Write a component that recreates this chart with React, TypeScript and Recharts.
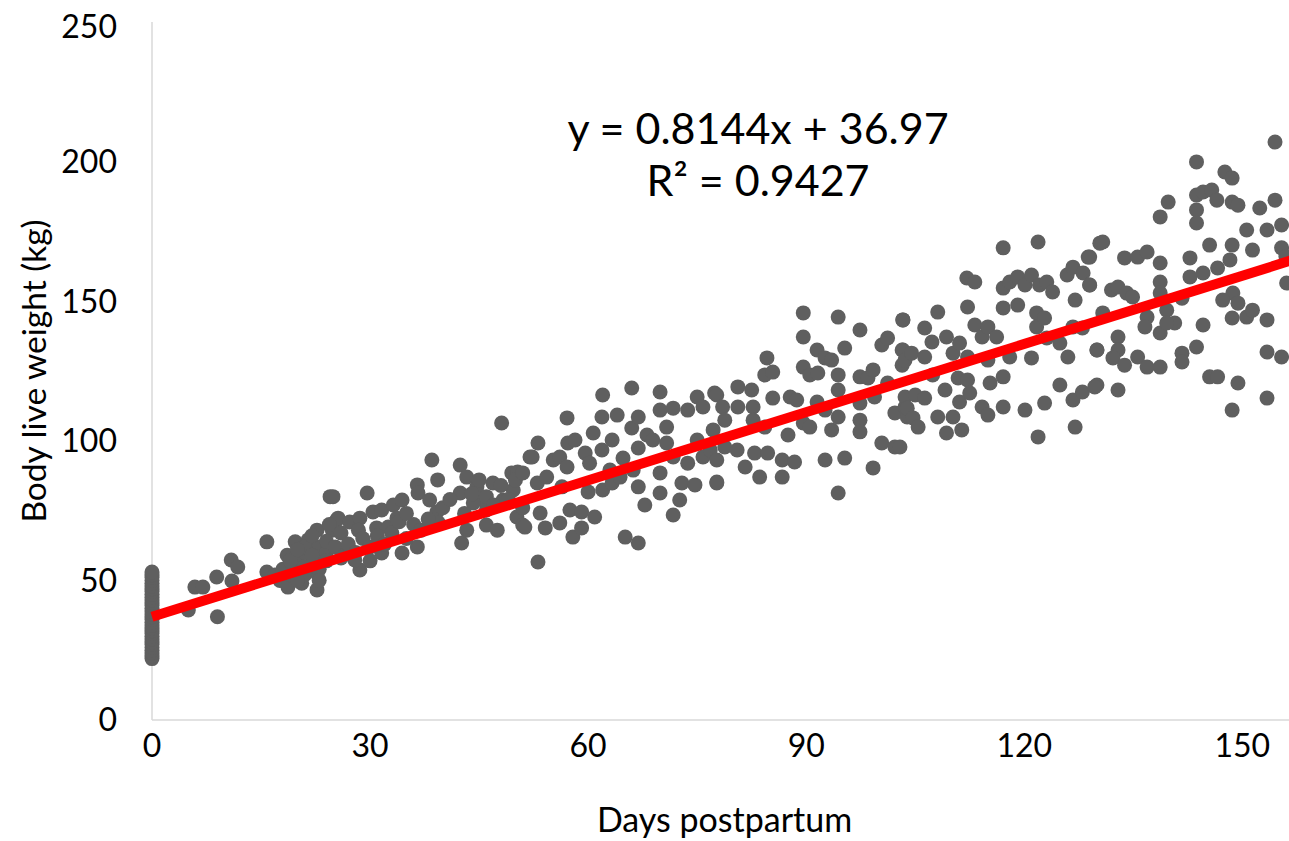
import React, { useLayoutEffect } from "react";
import { ScatterChart, Scatter, XAxis, YAxis } from "recharts";

// weights at day 0
const day0Weights = [
  22, 23, 24, 25, 26, 27, 28, 29, 30, 31, 32, 33, 34, 35, 36, 37, 38, 39, 40,
  41, 42, 43, 44, 45, 46, 47, 48, 49, 50, 51, 52, 53,
];

// [day, kg] pairs, read region by region
const earlyPoints = [
  [5, 39.4], [5.9, 47.6], [7, 47.6], [8.9, 51.2], [9, 37], [10.9, 57.3], [11.8, 54.8], [11, 49.8],
  [15.8, 63.8], [15.8, 53], [16.9, 51.9], [17.6, 50], [18.6, 59], [19.7, 63.8], [18.7, 47.6],
  [20.6, 49], [21.5, 64.5], [22.7, 68], [22.7, 46.6], [22.2, 61], [24.8, 68], [24.5, 80],
  [25.4, 71.6], [22.7, 52.6], [19.4, 56], [20, 55], [20, 58], [21, 52], [21, 60], [22, 56],
  [23, 58], [23, 62], [24, 60], [24, 64], [19, 52], [18, 54], [21, 62], [22, 66], [20, 50],
  [23, 54], [19, 57], [20, 61], [21, 55], [22, 59], [23, 50], [24, 57],
];

const mid1Points = [
  [24.9, 80], [29.6, 81.3], [25.6, 72.3], [24.4, 70], [25.2, 62], [26.8, 59.8], [27.2, 70.9],
  [28.6, 72.3], [28.4, 68], [28.6, 53.7], [27.9, 57.3], [30.4, 74.5], [31.6, 75.2], [30.9, 68.8],
  [32.5, 69.1], [33.2, 77], [34.4, 78.8], [33.7, 72.3], [31.6, 59.8], [34.4, 59.8], [36.5, 62],
  [36.5, 84.2], [36.6, 81.3], [38.2, 78.8], [38.5, 93.1], [39.3, 86], [39.2, 74.5], [39.4, 70.6],
  [42.4, 91.3], [43.3, 87], [42.4, 81.3], [42.6, 63.4], [43.3, 68], [44.7, 83.5], [45.6, 78.8],
  [46, 69.8], [46.9, 84.9], [47.5, 68], [48.1, 106.4], [48.3, 78.8], [49.7, 82.4], [49.5, 88.5],
  [50.3, 88.8], [50.2, 72.7], [51, 69.8], [52, 94.2], [46, 75.2], [44.2, 77.7],
  [26, 67], [26, 58], [27, 63], [28, 60], [29, 65], [30, 62], [30, 57], [31, 66], [32, 63],
  [33, 67], [34, 71], [35, 65], [36, 70], [37, 68], [35, 74], [38, 72], [40, 76], [41, 79],
  [43, 74], [44, 81], [45, 86], [46, 80], [47, 77], [48, 84], [49, 79], [50, 86], [51, 76],
];

const mid2Points = [
  [53.1, 56.6], [51.3, 69.1], [51, 88.5], [52.3, 94.2], [53.1, 99.2], [53, 84.9], [54.1, 68.8],
  [53.4, 74.1], [54.3, 87], [55.2, 93.1], [56.1, 94.2], [56.4, 83.5], [56.1, 70.6], [57.1, 108.2],
  [57.2, 99.2], [57.1, 90.6], [57.5, 75.2], [57.9, 65.5], [59.1, 74.5], [59.1, 68.8], [58.2, 100.3],
  [59.6, 95.6], [60, 81.7], [60.2, 92], [60.9, 72.7], [60.7, 102.8], [61.9, 108.5], [62, 116.4],
  [61.9, 96.7], [62, 82.4], [63.3, 100.3], [64, 109.2], [63, 89.5], [63.3, 84.9], [64.4, 87],
  [64.8, 93.8], [65.1, 65.5], [66, 104.6], [66, 118.9], [66.9, 108.5], [66.9, 97.4], [66.9, 83.5],
  [66.9, 63.4], [66.2, 89.5], [68.1, 102.1], [67.8, 77], [68.9, 100.3], [69.9, 117.5], [69.9, 111],
  [69.9, 88.5], [69.9, 81.3], [70.8, 104.9], [70.8, 99.2], [71.7, 111.7], [71.7, 94.2], [71.7, 73.4],
  [72.6, 78.8], [72.9, 84.9], [73.7, 111], [73.7, 92], [74.7, 84.2], [75, 115.7], [75.8, 112.1],
  [75, 100.3], [75.8, 94.2], [77.4, 117.1], [77.2, 103.9], [77.7, 85.2], [76.8, 96.7],
];

const mid3Points = [
  [77.7, 84.9], [77.7, 116.4], [78.5, 112.1], [78.8, 107.4], [78.8, 97.8], [77.7, 93.1],
  [80.6, 119.3], [80.6, 112.1], [80.5, 96.7], [81.6, 90.6], [82.5, 118.2], [82.7, 112.1],
  [82.7, 107.4], [82.9, 95.6], [83.6, 87], [84.6, 129.7], [84.3, 123.6], [85.4, 124.6],
  [85.4, 115.3], [84.3, 104.9], [84.7, 95.6], [86.7, 87], [86.7, 93.1], [87.8, 115.7],
  [88.7, 114.6], [87.5, 102.1], [88.4, 92.4], [89.6, 145.8], [89.6, 137.2], [89.6, 126.4],
  [90.5, 123.6], [89.6, 106.4], [90.5, 104.9], [91.5, 132.5], [92.6, 129.7], [93.5, 128.9],
  [91.6, 124.3], [91.5, 113.9], [92.6, 111], [92.6, 93.1], [93.5, 103.9], [94.4, 144.3],
  [94.4, 123.6], [94.4, 118.2], [94.4, 108.5], [95.3, 133.2], [95.3, 93.8], [94.4, 81.3],
  [97.4, 139.7], [97.4, 122.9], [97.4, 113.5], [97.4, 107.4], [97.4, 103.2], [98.5, 122.5],
  [99.2, 125.4], [99.4, 115.7], [99.2, 90.3], [100.4, 99.2], [100.4, 134.3], [101.2, 136.8],
  [101.2, 120.7], [102.2, 110], [102.2, 97.8], [103.3, 143.3], [103.2, 132.5], [103.2, 127.1],
  [103.6, 112.1], [103.9, 108.5],
];

const late1Points = [
  [102.9, 97.8], [103.3, 143.3], [103.3, 132.5], [103.6, 128.9], [104.5, 131.4], [103.6, 115.7],
  [103.9, 111.7], [105, 116.4], [104.7, 108.2], [105.4, 104.9], [106.3, 140.4], [106.3, 130],
  [106.3, 115.3], [107.3, 135.4], [107.4, 123.6], [108.1, 146.1], [108.1, 108.5], [109.1, 118.2],
  [109.3, 137.2], [109.3, 102.8], [110.2, 131.4], [110.2, 108.5], [111.1, 135], [110.9, 122.5],
  [111.1, 113.9], [111.4, 103.9], [112.2, 147.9], [112.1, 158.3], [113.2, 156.9], [112.2, 130],
  [112.2, 121.8], [112.5, 117.1], [113.2, 141.5], [114.2, 112.1], [114.2, 137.2], [115, 140.8],
  [115, 128.9], [115, 109.2], [115.3, 120.7], [116.2, 137.2], [117.1, 122.9], [117.1, 112.1],
  [117.1, 169.1], [117.1, 154.7], [117.1, 147.6], [118, 156.9], [118, 130], [119.1, 158.7],
  [119.1, 148.6], [120.1, 155.8], [120.1, 111], [121, 159.4], [121, 129.7], [121.7, 145.8],
  [121.7, 140.8], [121.9, 171.2], [122.1, 155.8], [123.1, 156.9], [122.8, 144], [122.8, 113.5],
  [121.9, 101.4], [123.9, 153.3], [123.1, 136.8], [124.9, 135], [124.9, 120], [126, 130],
  [125.9, 159.4], [126.7, 162.2], [127, 150.4], [126.7, 140.8], [126.7, 114.6], [127, 104.9],
  [128, 140.4], [128, 117.5], [128.1, 160.1], [128.8, 165.8], [129, 155.8], [130, 132.5],
  [130, 120], [130.4, 170.8],
];

const late2Points = [
  [129, 165.8], [129, 155.8], [130, 132.5], [129.7, 119.3], [130.8, 171.2], [130.8, 145.8],
  [132, 154], [132.9, 155.1], [132.9, 137.2], [132.9, 132.5], [132.2, 129.7], [133.8, 127.1],
  [132.9, 118.2], [133.8, 165.5], [134.1, 152.9], [134.9, 151.5], [135.6, 165.8], [136.9, 167.6],
  [136.9, 144.3], [136.6, 140.8], [135.6, 130], [136.9, 126.4], [138.7, 163.7], [138.7, 156.9],
  [138.7, 152.9], [138.7, 138.6], [138.7, 126.4], [139.8, 185.5], [138.7, 180.2], [139.6, 146.8],
  [140.7, 142.2], [139.6, 142.2], [141.7, 151.1], [141.7, 131.4], [141.7, 128.2], [142.8, 165.5],
  [142.8, 158.7], [143.7, 199.9], [143.7, 188], [143.7, 182.7], [143.7, 178], [143.7, 133.6],
  [144.6, 189.1], [145.8, 189.8], [144.6, 160.1], [144.6, 141.5], [145.5, 170.1], [145.5, 122.9],
  [146.6, 122.9], [146.5, 186.2], [146.6, 161.9], [147.6, 196.3], [148.6, 194.1], [148.6, 185.5],
  [149.4, 184.4], [148.6, 170.1], [148.3, 164.8], [148.7, 152.9], [147.3, 150.4], [149.4, 149.3],
  [148.6, 144], [148.6, 111], [150.6, 144.3], [151.4, 146.8], [150.6, 175.5], [151.4, 168.3],
  [149.4, 120.7], [152.4, 183.4], [153.4, 175.5], [153.4, 143.3], [153.4, 131.8], [153.4, 115.3],
  [154.5, 207], [154.5, 186.2], [155.4, 177.3], [155.4, 169.1], [156.1, 156.5], [155.4, 130],
  [156, 166],
];

const xTicks = [0, 30, 60, 90, 120, 150];
const yTicks = [0, 50, 100, 150, 200, 250];

const slope = 0.8144;
const intercept = 36.97;
const trendDays = [0, 160];

const points = [
  ...day0Weights.map((kg) => ({ day: 0, kg })),
  ...[...earlyPoints, ...mid1Points, ...mid2Points, ...mid3Points, ...late1Points, ...late2Points].map(
    ([day, kg]) => ({ day, kg })
  ),
];
const trend = trendDays.map((day) => ({ day, kg: slope * day + intercept }));

const font = "Lato, 'Open Sans', sans-serif";
const tickStyle = { fontSize: 32, fill: "#000", fontFamily: font };

const Dot = (props: any) => <circle cx={props.cx} cy={props.cy} r={7.5} fill="#5f5f5f" />;

export default function App() {
  // the chart runs off the right edge like the original, so let the page use that strip
  useLayoutEffect(() => {
    document.body.style.marginRight = "0px";
    document.body.style.marginBottom = "0px";
  }, []);

  return (
    <div style={{ position: "relative", width: 1281, height: 833, overflow: "hidden" }}>
      <ScatterChart width={1307} height={833} margin={{ top: 14, right: 0, bottom: 0, left: 0 }}>
        <XAxis
          type="number"
          dataKey="day"
          domain={[0, 160]}
          ticks={xTicks}
          tickLine={false}
          tickMargin={8}
          height={121}
          tick={tickStyle}
          axisLine={{ stroke: "#d9d9d9", strokeWidth: 1.5 }}
          label={{
            value: "Days postpartum",
            position: "insideBottom",
            offset: 9,
            dx: -9,
            style: { fontSize: 34, fill: "#000", fontFamily: font },
          }}
        />
        <YAxis
          type="number"
          dataKey="kg"
          domain={[0, 250]}
          ticks={yTicks}
          tickLine={false}
          tickMargin={29}
          width={144}
          tick={tickStyle}
          axisLine={{ stroke: "#d9d9d9", strokeWidth: 1.5 }}
          label={{
            value: "Body live weight (kg)",
            angle: -90,
            position: "insideLeft",
            offset: 26,
            style: { fontSize: 33.5, fill: "#000", fontFamily: font, textAnchor: "middle" },
          }}
        />
        <Scatter data={points} shape={Dot} isAnimationActive={false} />
        <Scatter
          data={trend}
          line={{ stroke: "#ff0000", strokeWidth: 10 }}
          lineType="joint"
          shape={() => <g />}
          isAnimationActive={false}
        />
      </ScatterChart>
      <div
        style={{
          position: "absolute",
          left: 750,
          top: 94,
          transform: "translateX(-50%)",
          fontFamily: font,
          fontSize: 43,
          lineHeight: "52px",
          textAlign: "center",
          whiteSpace: "nowrap",
          color: "#000",
        }}
      >
        <div>y = 0.8144x + 36.97</div>
        <div>R² = 0.9427</div>
      </div>
    </div>
  );
}
